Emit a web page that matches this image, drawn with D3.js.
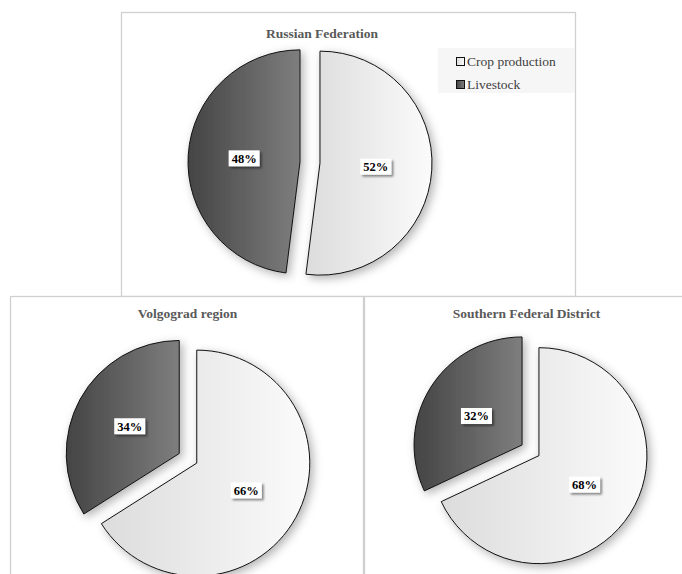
<!DOCTYPE html>
<html>
<head>
<meta charset="utf-8">
<script src="https://cdn.jsdelivr.net/npm/d3@7"></script>
<style>
  body { margin: 0; background: #fff; }
</style>
</head>
<body>
<div class="canvas"></div>
<script>
// chart data
const regions = ["Russian Federation", "Volgograd region", "Southern Federal District"];
const categories = ["Crop production", "Livestock"];
const cropShare = [52, 66, 68];
const livestockShare = [48, 34, 32];

const dims = { width: 682, height: 574 };
const serif = "'Liberation Serif', 'Times New Roman', 'DejaVu Serif', serif";

// panel frames + pie placement for each region
const panels = [
  { x: 121, y: 12, w: 454, h: 284, cx: 310, cy: 162.5, r: 112, tx: 322, ty: 38 },
  { x: 10, y: 296, w: 353, h: 300, cx: 188, cy: 458.3, r: 113, tx: 187.5, ty: 318 },
  { x: 364, y: 296, w: 340, h: 300, cx: 530.5, cy: 450.3, r: 108, tx: 526.5, ty: 318 }
];
const explode = 10;

const svg = d3.select('.canvas')
  .append('svg')
  .attr('width', dims.width)
  .attr('height', dims.height);

const defs = svg.append('defs');

// gradients for the two categories
const gradStops = [
  ['#dcdcdc', '#fbfbfb'],
  ['#444444', '#7e7e7e']
];
gradStops.forEach((s, i) => {
  const g = defs.append('linearGradient')
    .attr('id', 'grad' + i)
    .attr('x1', '0%').attr('x2', '100%')
    .attr('y1', '0%').attr('y2', '0%');
  g.append('stop').attr('offset', '0%').attr('stop-color', s[0]);
  g.append('stop').attr('offset', '100%').attr('stop-color', s[1]);
});

const shadow = defs.append('filter')
  .attr('id', 'shadow')
  .attr('x', '-30%').attr('y', '-30%')
  .attr('width', '160%').attr('height', '160%');
shadow.append('feDropShadow')
  .attr('dx', 3).attr('dy', 3)
  .attr('stdDeviation', 5)
  .attr('flood-color', '#000')
  .attr('flood-opacity', 0.3);

const boxShadow = defs.append('filter')
  .attr('id', 'boxShadow')
  .attr('x', '-30%').attr('y', '-30%')
  .attr('width', '170%').attr('height', '190%');
boxShadow.append('feDropShadow')
  .attr('dx', 2).attr('dy', 2)
  .attr('stdDeviation', 1.2)
  .attr('flood-color', '#000')
  .attr('flood-opacity', 0.45);

const colour = d3.scaleOrdinal()
  .domain(categories)
  .range(['url(#grad0)', 'url(#grad1)']);

const pie = d3.pie().sort(null).value(d => d.value);

regions.forEach((name, i) => {
  const p = panels[i];
  const data = [
    { cat: categories[0], value: cropShare[i] },
    { cat: categories[1], value: livestockShare[i] }
  ];

  const panel = svg.append('g').attr('class', 'panel');
  panel.append('rect')
    .attr('x', p.x + 0.5).attr('y', p.y + 0.5)
    .attr('width', p.w).attr('height', p.h)
    .attr('fill', '#fff')
    .attr('stroke', '#d0d0d0')
    .attr('stroke-width', 1.3);

  panel.append('text')
    .attr('x', p.tx).attr('y', p.ty)
    .attr('text-anchor', 'middle')
    .attr('font-family', serif)
    .attr('font-size', '13.5px')
    .attr('font-weight', 'bold')
    .attr('fill', '#595959')
    .text(name);

  const arc = d3.arc().innerRadius(0).outerRadius(p.r);
  const g = panel.append('g')
    .attr('transform', `translate(${p.cx},${p.cy})`);

  const slices = g.selectAll('.slice')
    .data(pie(data))
    .enter().append('g')
    .attr('class', 'slice')
    .attr('transform', d => {
      const a = (d.startAngle + d.endAngle) / 2;
      return `translate(${Math.sin(a) * explode},${-Math.cos(a) * explode})`;
    });

  slices.append('path')
    .attr('d', arc)
    .attr('fill', d => colour(d.data.cat))
    .attr('stroke', '#111')
    .attr('stroke-width', 1)
    .attr('filter', 'url(#shadow)');

  const labels = slices.append('g')
    .attr('transform', d => `translate(${arc.centroid(d)})`);
  labels.append('rect')
    .attr('x', -15.5).attr('y', -8)
    .attr('width', 31).attr('height', 16)
    .attr('fill', '#fff')
    .attr('filter', 'url(#boxShadow)');
  labels.append('text')
    .attr('text-anchor', 'middle')
    .attr('dy', '0.35em')
    .attr('font-family', serif)
    .attr('font-size', '12.5px')
    .attr('font-weight', 'bold')
    .attr('fill', '#000')
    .text(d => d.data.value + '%');
});

// legend in the top panel
const legend = svg.append('g').attr('class', 'legend');
legend.append('rect')
  .attr('x', 438).attr('y', 48)
  .attr('width', 137).attr('height', 45)
  .attr('fill', '#f6f6f6');
const items = legend.selectAll('.item')
  .data(categories)
  .enter().append('g')
  .attr('class', 'item')
  .attr('transform', (d, i) => `translate(456,${57 + i * 23})`);
items.append('rect')
  .attr('x', 0.5).attr('y', 0.5)
  .attr('width', 8).attr('height', 8)
  .attr('fill', d => colour(d))
  .attr('stroke', '#111')
  .attr('stroke-width', 1);
items.append('text')
  .attr('x', 11).attr('y', 8.5)
  .attr('font-family', serif)
  .attr('font-size', '13.5px')
  .attr('fill', '#404040')
  .text(d => d);
</script>
</body>
</html>
